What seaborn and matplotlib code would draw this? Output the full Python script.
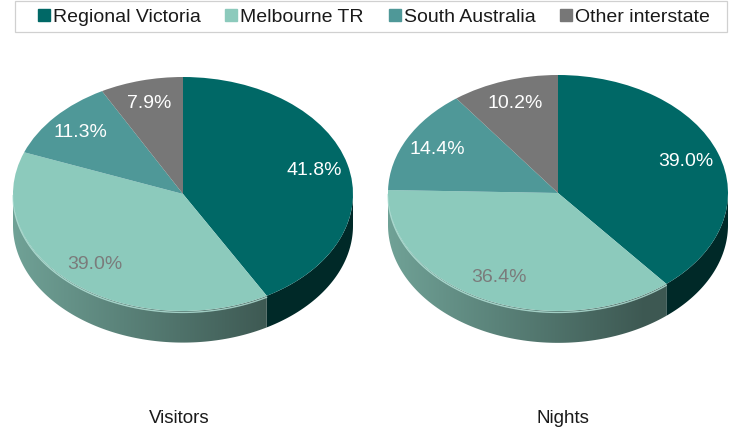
import numpy as np
import matplotlib
matplotlib.use("Agg")
import matplotlib.pyplot as plt
from matplotlib.patches import Polygon, Rectangle
from matplotlib.lines import Line2D
import seaborn as sns

# Share of visitors and visitor nights by origin
categories = ["Regional Victoria", "Melbourne TR", "South Australia", "Other interstate"]
visitors = [41.8, 39.0, 11.3, 7.9]
nights = [39.0, 36.4, 14.4, 10.2]
panel_titles = ["Visitors", "Nights"]

top_colors = ["#006866", "#8ccabc", "#4f9898", "#777777"]
label_colors = ["white", "#7b7b7b", "white", "white"]

sns.set_theme(style="white")
plt.rcParams["font.family"] = ["Liberation Sans", "DejaVu Sans"]

W, H = 736, 430
fig = plt.figure(figsize=(W / 100, H / 100), dpi=100)

DEPTH = 0.27  # extrusion height in units of the vertical radius


def shade(rgb, x, lo, hi):
    """Horizontal shading for the pie rim: lighter at left, darker at right."""
    t = (x + 1) / 2
    f = hi + (lo - hi) * np.clip(t / 0.75, 0, 1)
    return np.clip(np.outer(f, rgb), 0, 1)


def draw_pie(cx, cy, rx, ry, values, title, title_x):
    # axes placed so that data x=±1 spans rx pixels and y=±1 spans ry pixels
    xl = (-1.06, 1.06)
    yl = (-1 - DEPTH - 0.12, 1.12)
    left = (cx + xl[0] * rx) / W
    width = (xl[1] - xl[0]) * rx / W
    bottom = (H - (cy - yl[0] * ry)) / H
    height = (yl[1] - yl[0]) * ry / H
    ax = fig.add_axes([left, bottom, width, height])

    palette = sns.color_palette(top_colors)
    wedges, _, autotexts = ax.pie(
        values, colors=palette, startangle=90, counterclock=False,
        autopct="%.1f%%", pctdistance=0.8,
        wedgeprops=dict(linewidth=0), textprops=dict(fontsize=14),
    )
    ax.set_aspect("auto")
    ax.set_xlim(*xl)
    ax.set_ylim(*yl)
    ax.axis("off")

    for txt, col in zip(autotexts, label_colors):
        txt.set_color(col)

    # visible rim (front half) for each wedge
    xs = np.linspace(-1, 1, 400)
    for w, col in zip(wedges, top_colors):
        lo_ang, hi_ang = w.theta1, w.theta2
        while hi_ang > 180:
            lo_ang -= 360
            hi_ang -= 360
        segs = []
        for off in (0, -360, 360):
            s = max(lo_ang + off, -180)
            e = min(hi_ang + off, 0)
            if e > s:
                segs.append((s, e))
        rgb = np.array(matplotlib.colors.to_rgb(col))
        for s, e in segs:
            t = np.radians(np.linspace(s, e, 120))
            top = np.column_stack([np.cos(t), np.sin(t)])
            bot = np.column_stack([np.cos(t[::-1]), np.sin(t[::-1]) - DEPTH])
            poly = Polygon(np.vstack([top, bot]), closed=True,
                           facecolor="none", edgecolor="none")
            ax.add_patch(poly)
            if col == top_colors[0]:
                img = shade(rgb, xs, 0.40, 0.48)
            else:
                img = shade(rgb, xs, 0.44, 0.80)
            im = ax.imshow(img[np.newaxis, :, :], extent=(-1, 1, -1 - DEPTH, 0),
                           aspect="auto", interpolation="bilinear", zorder=0.5)
            im.set_clip_path(poly)
            if col == top_colors[1]:
                ax.plot(np.cos(t), np.sin(t) - 0.012, color="#b8e6dc",
                        lw=1.0, alpha=0.8, zorder=0.6)

    for w in wedges:
        w.set_zorder(1)
    for txt in autotexts:
        txt.set_zorder(3)

    fig.text(title_x / W, 1 - 423 / H, title, ha="center", va="baseline",
             fontsize=13.5, color="#1a1a1a")


draw_pie(183, 194, 170, 117, visitors, panel_titles[0], 179)
draw_pie(558, 193, 170, 118, nights, panel_titles[1], 563)

# legend box across the top
fig.patches.append(Rectangle((15 / W, 1 - 32 / H), (727 - 15) / W, 31 / H,
                             transform=fig.transFigure, facecolor="white",
                             edgecolor="#d0d0d0", linewidth=0.9))
handles = [Line2D([], [], marker="s", linestyle="none", markersize=8.5,
                  markerfacecolor=c, markeredgecolor=c) for c in top_colors]
leg = fig.legend(handles, categories, loc="center",
                 bbox_to_anchor=(374 / W, 1 - 17 / H), ncol=4, frameon=False,
                 fontsize=14, handlelength=0.6, handletextpad=0.15,
                 columnspacing=1.3, borderpad=0.0)
for t in leg.get_texts():
    t.set_color("#1a1a1a")

fig.savefig("out.png", dpi=100, facecolor="white")
